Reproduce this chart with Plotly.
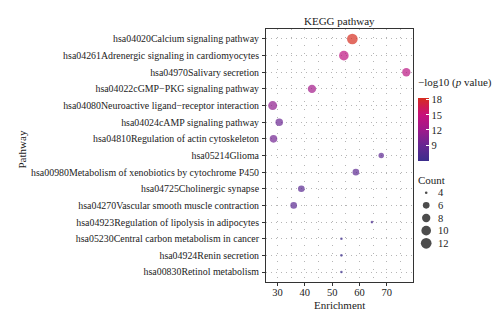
import numpy as np
import plotly.graph_objects as go

pathways = [
    "hsa04020Calcium signaling pathway",
    "hsa04261Adrenergic signaling in cardiomyocytes",
    "hsa04970Salivary secretion",
    "hsa04022cGMP\u2212PKG signaling pathway",
    "hsa04080Neuroactive ligand\u2212receptor interaction",
    "hsa04024cAMP signaling pathway",
    "hsa04810Regulation of actin cytoskeleton",
    "hsa05214Glioma",
    "hsa00980Metabolism of xenobiotics by cytochrome P450",
    "hsa04725Cholinergic synapse",
    "hsa04270Vascular smooth muscle contraction",
    "hsa04923Regulation of lipolysis in adipocytes",
    "hsa05230Central carbon metabolism in cancer",
    "hsa04924Renin secretion",
    "hsa00830Retinol metabolism",
]
enrichment = [57.4, 54.3, 77.2, 42.6, 28.2, 30.6, 28.5, 68.0, 58.7, 38.7, 35.9, 64.6, 53.4, 53.4, 53.4]
neglog10p = [18.4, 14.3, 14.0, 12.4, 11.2, 9.2, 9.6, 8.3, 8.2, 8.0, 8.1, 6.8, 6.2, 6.0, 5.9]
counts = [12, 10, 8, 8, 9, 7, 7, 5, 6, 6, 6, 4, 4, 4, 4]

legend_counts = [4, 6, 8, 10, 12]
cbar_ticks = [9, 12, 15, 18]

FONT = "Liberation Serif"
W, H = 500, 326
# plot panel in pixels
PL, PR, PT, PB = 266, 413, 29, 282

cmin, cmax = min(neglog10p), max(neglog10p)
nmin, nmax = min(counts), max(counts)


def diam(c):
    c = np.asarray(c, dtype=float)
    return 2.6 + 8.1 * np.sqrt((c - nmin) / (nmax - nmin))


colorscale = [
    [0.0, "#3b2d8c"],
    [0.25, "#672692"],
    [0.49, "#9e198b"],
    [0.73, "#c7117c"],
    [0.86, "#cf1b50"],
    [1.0, "#d62d1f"],
]

fig = go.Figure()

fig.add_trace(go.Scatter(
    x=enrichment, y=pathways, mode="markers",
    marker=dict(
        size=diam(counts), sizemode="diameter",
        color=neglog10p, colorscale=colorscale, cmin=cmin, cmax=cmax,
        line=dict(width=0),
        colorbar=dict(
            x=418 / W, xanchor="left", xpad=0,
            y=(H - 129.2) / H, yanchor="middle", ypad=0,
            len=63, lenmode="pixels", thickness=11,
            outlinewidth=0,
            tickvals=cbar_ticks, ticks="inside", ticklen=3, tickcolor="white",
            tickfont=dict(family=FONT, size=10.5, color="#222"),
        ),
    ),
    showlegend=False, hoverinfo="skip",
))

# size legend
fig.add_trace(go.Scatter(
    x=[0.1] * len(legend_counts), y=list(range(len(legend_counts))),
    mode="markers",
    marker=dict(size=diam(legend_counts), sizemode="diameter", color="black", line=dict(width=0)),
    xaxis="x2", yaxis="y2", showlegend=False, hoverinfo="skip",
))
for i, c in enumerate(legend_counts):
    fig.add_annotation(x=0.22, y=i, xref="x2", yref="y2", text=str(c), showarrow=False,
                       xanchor="left", yanchor="middle",
                       font=dict(family=FONT, size=10.5, color="#222"))

fig.update_layout(
    width=W, height=H,
    margin=dict(l=0, r=0, t=0, b=0),
    paper_bgcolor="white", plot_bgcolor="white",
    font=dict(family=FONT, color="#222"),
    xaxis=dict(
        domain=[PL / W, PR / W], range=[25.75, 79.65],
        tickvals=[30, 40, 50, 60, 70], ticks="outside", ticklen=3, tickcolor="#333",
        tickfont=dict(family=FONT, size=10.5, color="#222"), ticklabelstandoff=-3,
        showline=True, mirror=True, linecolor="#333", linewidth=1,
        showgrid=True, gridcolor="#b5b5b5", gridwidth=1, griddash="1px,7px",
        minor=dict(dtick=5, tick0=0, showgrid=True, gridcolor="#b5b5b5", griddash="1px,7px", ticks=""),
        zeroline=False, fixedrange=True,
    ),
    yaxis=dict(
        domain=[(H - PB) / H, (H - PT) / H],
        type="category", categoryorder="array", categoryarray=pathways[::-1],
        range=[-0.6, len(pathways) - 0.4],
        ticks="outside", ticklen=3, tickcolor="#333",
        tickfont=dict(family=FONT, size=9.9, color="#222"), ticklabelstandoff=1,
        showline=True, mirror=True, linecolor="#333", linewidth=1,
        showgrid=True, gridcolor="#b5b5b5", gridwidth=1, griddash="1px,4px",
        zeroline=False, fixedrange=True,
    ),
    xaxis2=dict(domain=[418 / W, 1.0], range=[0, 1], visible=False, fixedrange=True),
    yaxis2=dict(domain=[(H - 249.6) / H, (H - 186.4) / H], range=[len(legend_counts) - 0.5, -0.5],
                visible=False, fixedrange=True),
    annotations=list(fig.layout.annotations) + [
        dict(x=(PL + PR) / 2 / W, y=(H - 21) / H, xref="paper", yref="paper", text="KEGG pathway",
             showarrow=False, xanchor="center", yanchor="middle", font=dict(family=FONT, size=11, color="#222")),
        dict(x=(PL + PR) / 2 / W, y=(H - 305) / H, xref="paper", yref="paper", text="Enrichment",
             showarrow=False, xanchor="center", yanchor="middle", font=dict(family=FONT, size=11, color="#222")),
        dict(x=21.5 / W, y=(H - 150) / H, xref="paper", yref="paper", text="Pathway", textangle=-90,
             showarrow=False, xanchor="center", yanchor="middle", font=dict(family=FONT, size=11, color="#222")),
        dict(x=416 / W, y=(H - 82) / H, xref="paper", yref="paper", text="\u2212log10 (<i>p</i> value)",
             showarrow=False, xanchor="left", yanchor="middle", font=dict(family=FONT, size=11, color="#222")),
        dict(x=416 / W, y=(H - 179.5) / H, xref="paper", yref="paper", text="Count",
             showarrow=False, xanchor="left", yanchor="middle", font=dict(family=FONT, size=11, color="#222")),
    ],
)

fig.write_html("out.html")
